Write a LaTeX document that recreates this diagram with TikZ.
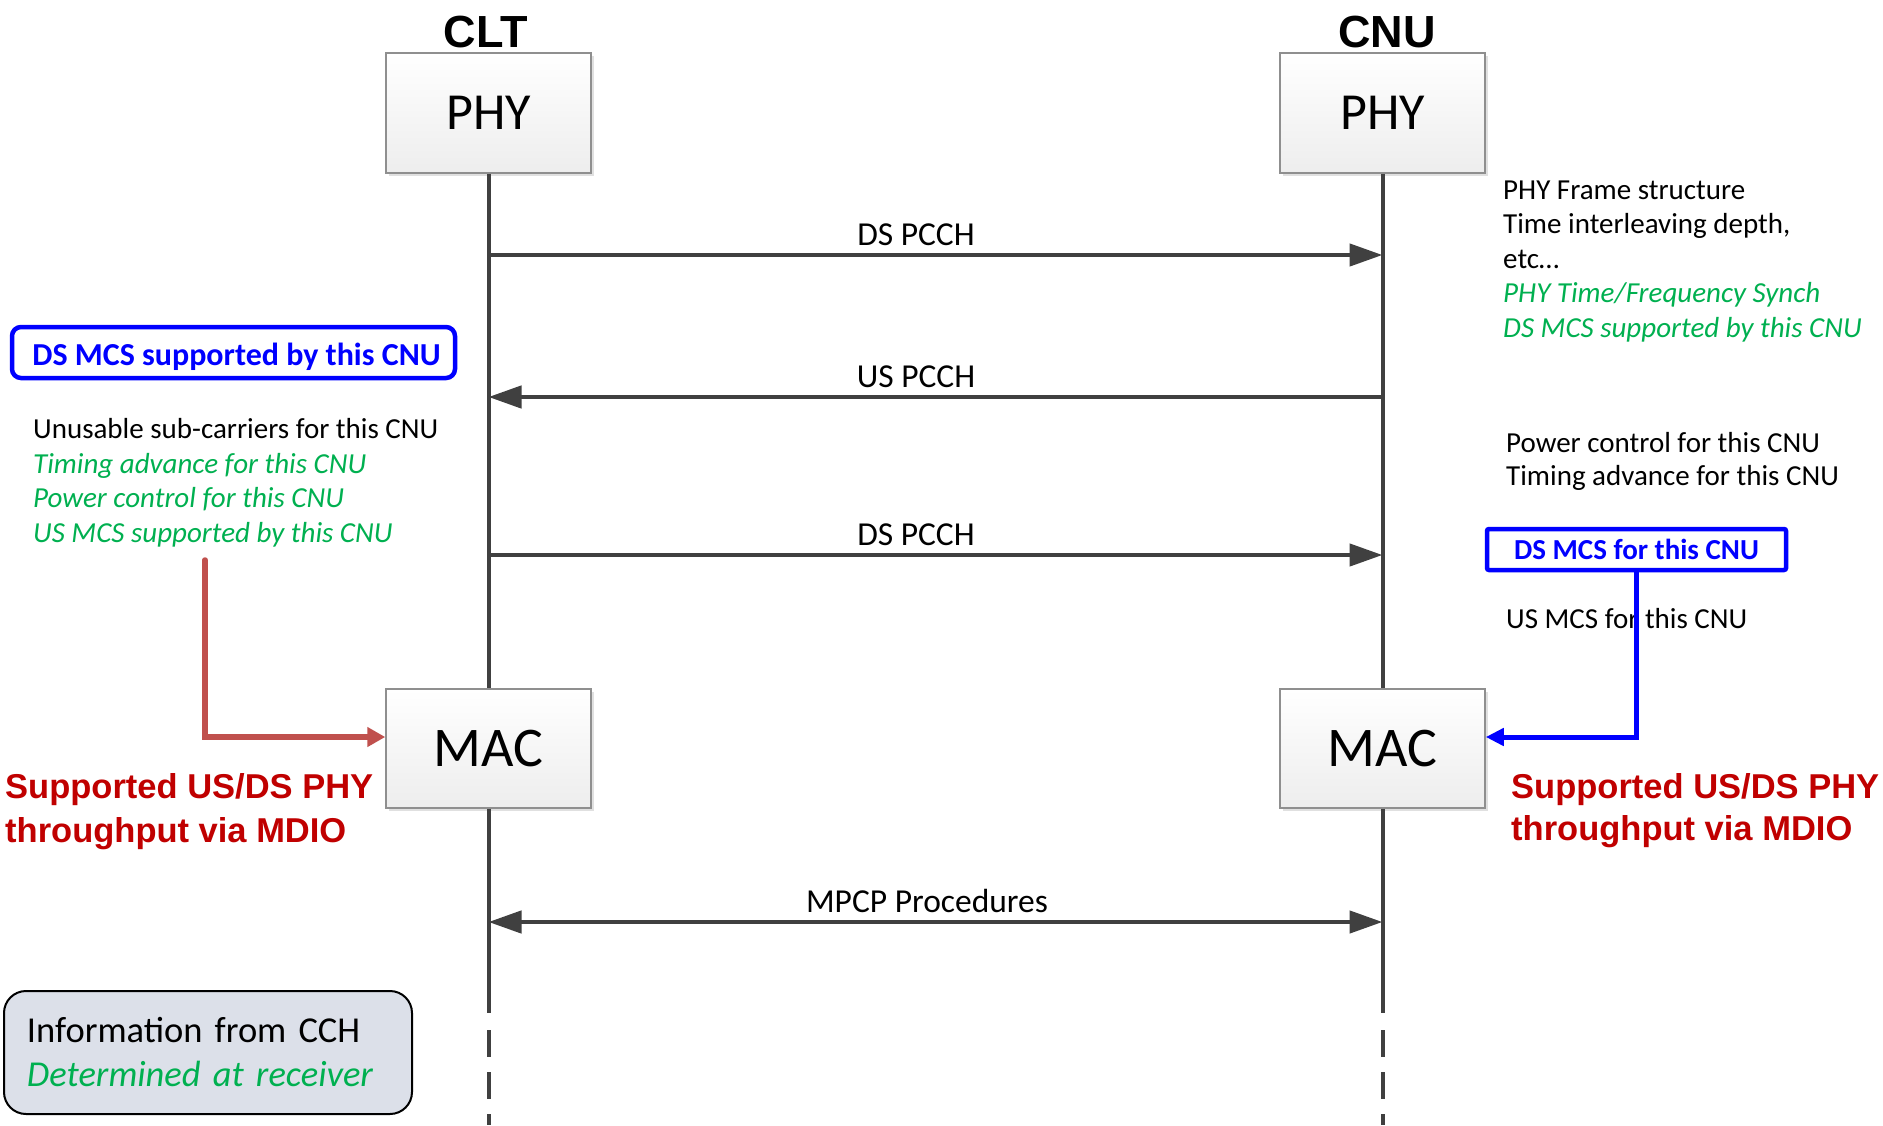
\documentclass[tikz,border=0pt]{standalone}
\usepackage{fontspec}
\setmainfont{Carlito}
\newfontfamily\arialf{Liberation Sans}
\usetikzlibrary{arrows.meta,shadows}
\definecolor{lgray}{HTML}{404040}
\definecolor{grn}{HTML}{00B050}
\definecolor{dred}{HTML}{C00000}
\definecolor{rarrow}{HTML}{C0504D}
\definecolor{legfill}{HTML}{DCE0E9}
\definecolor{boxborder}{HTML}{8F8F8F}
\definecolor{pureblue}{HTML}{0000FF}
\begin{document}
\begin{tikzpicture}[x=1pt,y=-1pt,
  layerbox/.style={draw=boxborder, line width=1.5pt, top color=white, bottom color=black!7,
    minimum width=205pt, inner sep=0pt,
    drop shadow={shadow xshift=3pt, shadow yshift=-3pt, fill=black, opacity=0.12}},
  lifeline/.style={draw=lgray, line width=4pt},
  msg/.style={draw=lgray, line width=4.5pt, -{Triangle[length=33pt,width=22pt]}},
  msgboth/.style={draw=lgray, line width=4.5pt, {Triangle[length=33pt,width=22pt]}-{Triangle[length=33pt,width=22pt]}},
  lab/.style={anchor=base, inner sep=0pt, font=\fontsize{33.5}{40}\selectfont},
  listtxt/.style={anchor=base west, inner sep=0pt, align=left, font=\fontsize{29}{34.5}\selectfont},
  title/.style={anchor=base, inner sep=0pt, font=\arialf\bfseries\fontsize{45}{50}\selectfont},
  redtxt/.style={anchor=base west, inner sep=0pt, align=left, text=dred, font=\arialf\bfseries\fontsize{34.5}{43.5}\selectfont},
  bluebox/.style={draw=pureblue, text=pureblue, line width=4.5pt, inner sep=0pt, font=\bfseries\fontsize{32}{38}\selectfont}
]
\fill[white] (0,0) rectangle (1883,1125);
\useasboundingbox (0,0) rectangle (1883,1125);

% titles
\node[title] (clt) at (486,47) {CLT};
\node[title] (cnu) at (1387,47) {CNU};

% lifeline coordinates
\coordinate (endL) at (488.5,1013);
\coordinate (endR) at (1382.5,1013);
\coordinate (dashL) at (488.5,1030);
\coordinate (dashR) at (1382.5,1030);
\coordinate (botL) at (488.5,1125);
\coordinate (botR) at (1382.5,1125);

% boxes
\node[layerbox, minimum height=120pt, font=\fontsize{52}{60}\selectfont] (phyL) at (488.5,113) {PHY};
\node[layerbox, minimum height=120pt, font=\fontsize{52}{60}\selectfont] (phyR) at (1382.5,113) {PHY};
\node[layerbox, minimum height=119pt, font=\fontsize{56}{64}\selectfont] (macL) at (488.5,748.5) {MAC};
\node[layerbox, minimum height=119pt, font=\fontsize{56}{64}\selectfont] (macR) at (1382.5,748.5) {MAC};

% lifelines
\draw[lifeline] (phyL.south) -- (macL.north);
\draw[lifeline] (phyR.south) -- (macR.north);
\draw[lifeline] (macL.south) -- (endL);
\draw[lifeline] (macR.south) -- (endR);
\draw[lifeline, dash pattern=on 27pt off 15pt] (dashL) -- (botL);
\draw[lifeline, dash pattern=on 27pt off 15pt] (dashR) -- (botR);

% messages
\coordinate (m1L) at (488.5,255);  \coordinate (m1R) at (1382.5,255);
\coordinate (m2L) at (488.5,397);  \coordinate (m2R) at (1382.5,397);
\coordinate (m3L) at (488.5,555);  \coordinate (m3R) at (1382.5,555);
\coordinate (m4L) at (488.5,922);  \coordinate (m4R) at (1382.5,922);
\draw[msg] (m1L) -- (m1R);
\draw[msg] (m2R) -- (m2L);
\draw[msg] (m3L) -- (m3R);
\draw[msgboth] (m4L) -- (m4R);
\node[lab] (l1) at (916,245) {DS PCCH};
\node[lab] (l2) at (916,387) {US PCCH};
\node[lab] (l3) at (916,545) {DS PCCH};
\node[lab] (l4) at (927,912) {MPCP Procedures};

% left side
\node[bluebox, rounded corners=9pt, minimum width=443pt, minimum height=51pt, text height=25pt, text depth=0pt] (dsmcsL) at (233.5,352.5) {\hspace*{6pt}DS MCS supported by this CNU};
\node[listtxt] (listL) at (33,542) {Unusable sub-carriers for this CNU\\
  \textcolor{grn}{\itshape Timing advance for this CNU}\\
  \textcolor{grn}{\itshape Power control for this CNU}\\
  \textcolor{grn}{\itshape US MCS supported by this CNU}};
\node[redtxt] (redL) at (5,842) {Supported US/DS PHY\\throughput via MDIO};
\coordinate (rs) at (205,560);
\coordinate (rc) at (205,737);
\draw[draw=rarrow, line width=5.5pt, line cap=round, -{Triangle[length=18pt,width=19pt]}] (rs) -- (rc) -- (macL.west |- rc);

% right side
\node[listtxt] (listR) at (1503,337) {PHY Frame structure\\
  Time interleaving depth,\\
  etc…\\
  \textcolor{grn}{\itshape PHY Time/Frequency Synch}\\
  \textcolor{grn}{\itshape DS MCS supported by this CNU}};
\node[listtxt, font=\fontsize{29}{33}\selectfont] (pcR) at (1506,485) {Power control for this CNU\\Timing advance for this CNU};
\node[bluebox, rounded corners=2pt, minimum width=299pt, minimum height=41pt, font=\bfseries\fontsize{29}{34}\selectfont] (dsmcsR) at (1636.5,549.5) {DS MCS for this CNU};
\node[listtxt] (usR) at (1506,628) {US MCS for this CNU};
\node[redtxt, font=\arialf\bfseries\fontsize{34.5}{42}\selectfont] (redR) at (1511,840) {Supported US/DS PHY\\throughput via MDIO};
\coordinate (bc) at (1636.5,737);
\draw[line width=5pt, draw=pureblue, -{Triangle[length=18pt,width=17pt]}] (dsmcsR.south) -- (bc) -- (macR.east |- bc);

% legend
\node[draw=black, line width=2pt, fill=legfill, rounded corners=22pt, minimum width=408pt, minimum height=123pt,
  text width=362pt, align=left, inner sep=0pt, font=\fontsize{36.5}{44}\selectfont] (leg) at (208,1052.5)
  {Information from CCH\\\textcolor{grn}{\itshape Determined at receiver}};
\end{tikzpicture}
\end{document}
